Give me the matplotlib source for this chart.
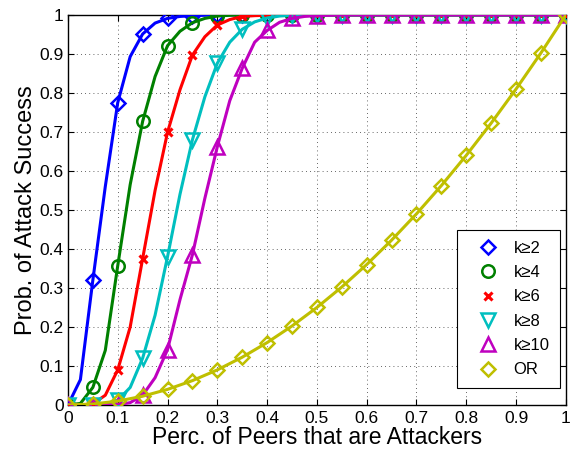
import matplotlib
matplotlib.use("Agg")
import matplotlib.pyplot as plt
from matplotlib.lines import Line2D

plt.rcParams['font.family'] = ['Liberation Sans', 'DejaVu Sans']

# fine x grid for the curves (step 0.025), markers every 0.05
x_curve = [i * 0.025 for i in range(41)]
x_or = [i * 0.05 for i in range(21)]

k2 = [0, 0.065, 0.32, 0.56, 0.775, 0.893, 0.951, 0.979, 0.991, 0.996, 0.998, 0.999] + [1] * 29
k4 = [0, 0.004, 0.045, 0.14, 0.357, 0.565, 0.727, 0.842, 0.921, 0.958, 0.98, 0.991,
      0.997, 0.999] + [1] * 27
k6 = [0, 0.0, 0.003, 0.025, 0.09, 0.2, 0.375, 0.55, 0.699, 0.808, 0.897, 0.944,
      0.974, 0.988, 0.996, 0.998, 0.999] + [1] * 24
k8 = [0, 0, 0, 0.003, 0.012, 0.045, 0.12, 0.23, 0.38, 0.54, 0.68, 0.79, 0.876, 0.93,
      0.963, 0.982, 0.992, 0.997, 0.999] + [1] * 22
k10 = [0, 0, 0, 0.0005, 0.001, 0.006, 0.025, 0.07, 0.142, 0.27, 0.385, 0.53, 0.662,
       0.78, 0.863, 0.93, 0.96, 0.981, 0.991, 0.996, 0.998, 0.999] + [1] * 19
or_vals = [0, 0.0025, 0.01, 0.0225, 0.04, 0.0625, 0.09, 0.1225, 0.16, 0.2025, 0.25,
           0.3025, 0.36, 0.4225, 0.49, 0.5625, 0.64, 0.7225, 0.81, 0.9025, 1.0]

labels = ['k≥2', 'k≥4', 'k≥6', 'k≥8', 'k≥10', 'OR']
colors = ['#0000ff', '#008000', '#ff0000', '#00bfbf', '#bf00bf', '#bfbf00']
markers = ['D', 'o', 'x', 'v', '^', 'D']
msizes = [7, 9, 6, 10, 10, 7]

fig = plt.figure(figsize=(5.71, 4.51), dpi=100)
ax = fig.add_axes([0.119, 0.102, 0.872, 0.865])

series = [k2, k4, k6, k8, k10]
for vals, c, m, ms in zip(series, colors[:5], markers[:5], msizes[:5]):
    ax.plot(x_curve, vals, color=c, lw=2.2, marker=m, markevery=2, ms=ms,
            mfc='none', mec=c, mew=1.8 if m != 'x' else 2.2, zorder=3)
ax.plot(x_or, or_vals, color=colors[5], lw=2.2, marker='D', ms=7, mfc='none',
        mec=colors[5], mew=1.8, zorder=3)

ax.set_xlim(0, 1)
ax.set_ylim(0, 1)
ax.set_xticks([i / 10 for i in range(11)])
ax.set_yticks([i / 10 for i in range(11)])
ax.set_xticklabels(['0'] + ['%.1f' % (i / 10) for i in range(1, 10)] + ['1'])
ax.set_yticklabels(['0'] + ['%.1f' % (i / 10) for i in range(1, 10)] + ['1'])
ax.tick_params(direction='in', top=True, right=True, labelsize=12.5, length=4, width=0.8)
ax.tick_params(axis='x', pad=4)
ax.tick_params(axis='y', pad=3)
ax.grid(True, color='#333333', linestyle=(0, (1, 4)), lw=0.6)
for s in ax.spines.values():
    s.set_linewidth(1.0)

ax.set_xlabel('Perc. of Peers that are Attackers', fontsize=16.5, labelpad=0)
ax.set_ylabel('Prob. of Attack Success', fontsize=17, labelpad=2)

handles = [Line2D([], [], linestyle='none', marker=m, color=c, mfc='none', mec=c,
                  ms=ms, mew=1.8 if m != 'x' else 2.2)
           for m, c, ms in zip(markers, colors, msizes)]
leg = ax.legend(handles, labels, loc='lower right', bbox_to_anchor=(0.988, 0.044),
                borderaxespad=0, fontsize=12, fancybox=False, framealpha=1,
                edgecolor='black', handlelength=2.5, handletextpad=0.3,
                labelspacing=0.56, borderpad=0.62)
leg.get_frame().set_linewidth(0.8)

fig.savefig('out.png', dpi=100)
